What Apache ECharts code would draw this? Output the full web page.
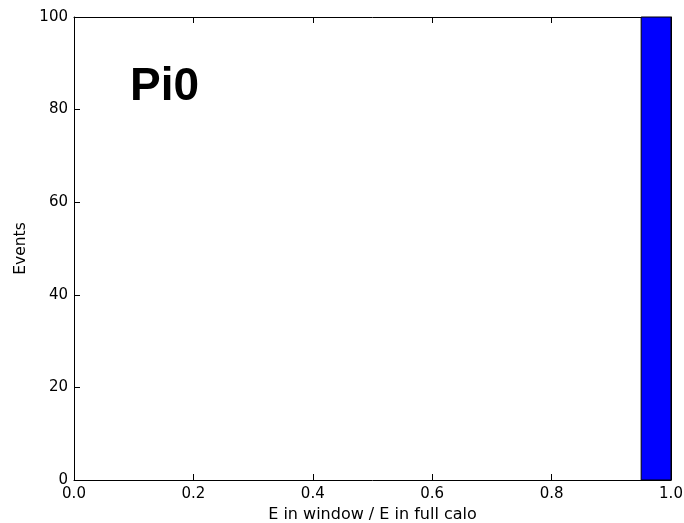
<!DOCTYPE html>
<html>
<head>
<meta charset="utf-8">
<script src="https://cdn.jsdelivr.net/npm/echarts@6/dist/echarts.min.js"></script>
<style>
  html, body { margin: 0; padding: 0; background: #fff; }
  #main { width: 684px; height: 523px; }
</style>
</head>
<body>
<div id="main"></div>
<script>
// histogram bins: [left edge, right edge, count]
const binLeft = [0.95];
const binRight = [1.0];
const binCount = [100];
const xTicks = [0, 0.2, 0.4, 0.6, 0.8, 1.0];
const yTicks = [0, 20, 40, 60, 80, 100];

const histData = binLeft.map((l, i) => [l, binRight[i], binCount[i]]);

const font = "DejaVu Sans";
const axisCommon = {
  axisLine: { show: true, onZero: false, lineStyle: { color: "#000", width: 1 } },
  axisTick: { show: true, inside: true, length: 6, lineStyle: { color: "#000" } },
  splitLine: { show: false }
};

const chart = echarts.init(document.getElementById("main"));
chart.setOption({
  animation: false,
  grid: { left: 74, right: 13, top: 17, bottom: 43, containLabel: false, outerBoundsMode: "none" },
  xAxis: [
    Object.assign({}, axisCommon, {
      type: "value", min: xTicks[0], max: xTicks[xTicks.length - 1], interval: 0.2,
      name: "E in window / E in full calo",
      nameLocation: "middle", nameGap: 26,
      nameTextStyle: { fontFamily: font, fontSize: 16, color: "#000" },
      axisLabel: {
        fontFamily: font, fontSize: 15, color: "#000", margin: 7,
        formatter: v => v.toFixed(1)
      }
    }),
    Object.assign({}, axisCommon, {
      type: "value", min: xTicks[0], max: xTicks[xTicks.length - 1], interval: 0.2,
      position: "top",
      axisLabel: { show: false }
    })
  ],
  yAxis: [
    Object.assign({}, axisCommon, {
      type: "value", min: yTicks[0], max: yTicks[yTicks.length - 1], interval: 20,
      name: "Events",
      nameLocation: "middle", nameGap: 43,
      nameTextStyle: { fontFamily: font, fontSize: 15.5, color: "#000" },
      axisLabel: { fontFamily: font, fontSize: 15, color: "#000", margin: 6 }
    }),
    Object.assign({}, axisCommon, {
      type: "value", min: yTicks[0], max: yTicks[yTicks.length - 1], interval: 20,
      position: "right",
      axisLabel: { show: false }
    })
  ],
  graphic: [{
    type: "text", left: 130, top: 64,
    style: {
      text: "Pi0", fontFamily: "Liberation Sans", fontWeight: "bold",
      fontSize: 46, fill: "#000"
    }
  }],
  series: [{
    type: "custom",
    data: histData,
    encode: { x: [0, 1], y: 2 },
    renderItem: function (params, api) {
      const p0 = api.coord([api.value(0), 0]);
      const p1 = api.coord([api.value(1), api.value(2)]);
      return {
        type: "rect",
        shape: { x: p0[0], y: p1[1], width: p1[0] - p0[0], height: p0[1] - p1[1] },
        style: { fill: "#0000ff", stroke: "#000", lineWidth: 1 }
      };
    }
  }]
});
</script>
</body>
</html>
